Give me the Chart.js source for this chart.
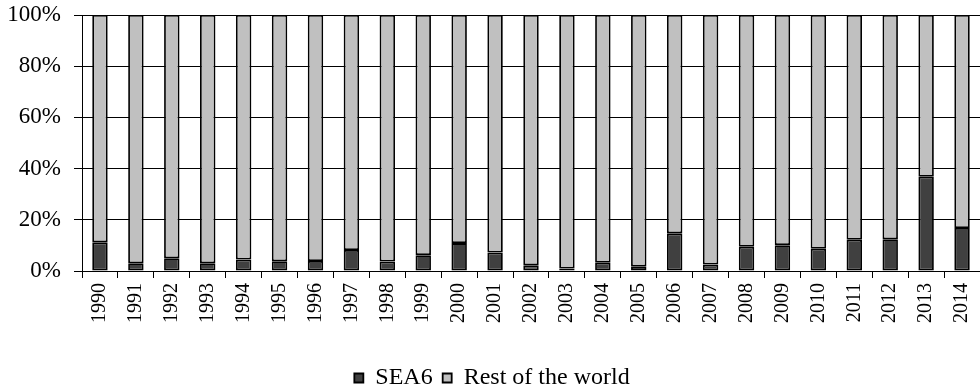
<!DOCTYPE html>
<html>
<head>
<meta charset="utf-8">
<script src="https://cdn.jsdelivr.net/npm/chart.js@4.4.1/dist/chart.umd.min.js"></script>
<style>
  html, body { margin: 0; padding: 0; background: #fff; }
  #wrap { position: relative; width: 980px; height: 385px; }
</style>
</head>
<body>
<div id="wrap"><canvas id="c"></canvas></div>
<script>
// share of total (%)
const years = ['1990', '1991', '1992', '1993', '1994', '1995', '1996', '1997', '1998', '1999',
  '2000', '2001', '2002', '2003', '2004', '2005', '2006', '2007', '2008', '2009',
  '2010', '2011', '2012', '2013', '2014'];
const sea6 = [11.2, 3.0, 5.0, 3.0, 4.5, 3.8, 3.9, 8.2, 3.7, 6.2,
  10.9, 7.2, 2.2, 1.0, 3.2, 1.7, 14.7, 2.5, 9.5, 10.1,
  8.7, 12.2, 12.4, 36.8, 16.8];
const restOfWorld = [88.8, 97.0, 95.0, 97.0, 95.5, 96.2, 96.1, 91.8, 96.3, 93.8,
  89.1, 92.8, 97.8, 99.0, 96.8, 98.3, 85.3, 97.5, 90.5, 89.9,
  91.3, 87.8, 87.6, 63.2, 83.2];
const seriesNames = ['SEA6', 'Rest of the world'];
const yTicks = [0, 20, 40, 60, 80, 100];

const SERIF = "'Liberation Serif', 'Times New Roman', serif";

const barStyle = {
  borderColor: '#000',
  borderWidth: 1.8,
  borderSkipped: false,
  inflateAmount: 0,
  barPercentage: 0.43,
  categoryPercentage: 1.0,
};

const chart = new Chart(document.getElementById('c'), {
  type: 'bar',
  data: {
    labels: years,
    datasets: [
      { label: seriesNames[0], data: sea6, backgroundColor: '#404040', ...barStyle },
      { label: seriesNames[1], data: restOfWorld, backgroundColor: '#C0C0C0', ...barStyle },
    ],
  },
  options: {
    responsive: true,
    maintainAspectRatio: false,
    animation: false,
    layout: { padding: { left: 0, right: -4, top: 15, bottom: -15 } },
    plugins: {
      tooltip: { enabled: false },
      legend: {
        position: 'bottom',
        labels: {
          color: '#000',
          font: { family: SERIF, size: 24 },
          boxWidth: 9,
          boxHeight: 9,
          padding: 10,
        },
      },
    },
    scales: {
      x: {
        stacked: true,
        grid: { drawOnChartArea: false, drawTicks: true, tickLength: 7, color: '#000', lineWidth: 1 },
        border: { color: '#000', width: 1 },
        ticks: {
          color: '#000',
          font: { family: SERIF, size: 20 },
          minRotation: 90,
          maxRotation: 90,
          padding: 5,
          autoSkip: false,
        },
        afterFit: s => { s.height = 85; s.paddingLeft = 0; s.paddingRight = 0; },
      },
      y: {
        stacked: true,
        min: 0,
        max: 100,
        afterBuildTicks: s => { s.ticks = yTicks.map(v => ({ value: v })); },
        grid: { color: '#000', lineWidth: 1, tickLength: 8 },
        border: { color: '#000', width: 1 },
        ticks: {
          color: '#000',
          font: { family: SERIF, size: 23 },
          padding: 13,
          callback: v => v + '%',
        },
        afterFit: s => { s.width = 82; s.paddingTop = 0; s.paddingBottom = 0; },
      },
    },
  },
});
</script>
</body>
</html>
